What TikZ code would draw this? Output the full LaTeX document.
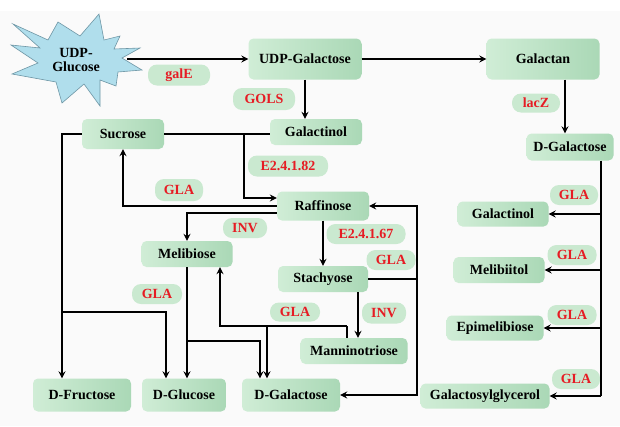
\documentclass[tikz,border=0pt]{standalone}
\usepackage{fontspec}
\setmainfont{Liberation Serif}
\usetikzlibrary{arrows.meta,calc}
\definecolor{boxL}{RGB}{208,237,214}
\definecolor{boxR}{RGB}{170,216,182}
\definecolor{pill}{RGB}{202,233,208}
\definecolor{labred}{RGB}{230,28,36}
\definecolor{starfill}{RGB}{176,222,236}
\definecolor{starline}{RGB}{110,150,165}
\definecolor{bgc}{RGB}{250,250,250}
\begin{document}
\begin{tikzpicture}[x=1pt,y=-1pt,
  font=\fontsize{14}{14.5}\selectfont\bfseries,
  box/.style={rounded corners=5pt, left color=boxL, right color=boxR, inner sep=0pt, text=black},
  lab/.style={rounded corners=9pt, fill=pill, text=labred, inner sep=0pt},
  arr/.style={line width=1.5pt, -{Stealth[length=7pt,width=7pt,inset=2.5pt]}},
  ln/.style={line width=1.5pt}]
\useasboundingbox (0,0) rectangle (620,426);
\fill[bgc] (0,11) rectangle (620,426);
% star
\filldraw[fill=starfill, draw=starline, line width=0.6pt]
  (13,24) -- (48,40) -- (58,22) -- (80,36) -- (99,14) -- (104,40) -- (120,36) -- (114,49)
  -- (140,48) -- (122,58) -- (142,70) -- (118,72) -- (116,86) -- (100,80) -- (100,106)
  -- (84,84) -- (62,103) -- (56,82) -- (12,74) -- (38,63) -- (11,45) -- (40,48) -- cycle;
\node[minimum width=102pt, align=center, inner sep=0pt] (ug) at (76,60) {UDP-\\Glucose};
% boxes
\node[box, minimum width=113pt, minimum height=41pt] (udpgal) at (305,59) {UDP-Galactose};
\node[box, minimum width=113pt, minimum height=41pt] (galactan) at (543,59) {Galactan};
\node[box, minimum width=92pt, minimum height=26pt] (galactinol1) at (316,132) {Galactinol};
\node[box, minimum width=82pt, minimum height=30pt] (sucrose) at (123,134) {Sucrose};
\node[box, minimum width=92pt, minimum height=29pt] (raffinose) at (323,206) {Raffinose};
\node[box, minimum width=91pt, minimum height=26pt] (melibiose) at (187,254) {Melibiose};
\node[box, minimum width=90pt, minimum height=26pt] (stachyose) at (323,279) {Stachyose};
\node[box, minimum width=107pt, minimum height=26pt] (manninotriose) at (354,351) {Manninotriose};
\node[box, minimum width=98pt, minimum height=33pt] (dfruc) at (82,395) {D-Fructose};
\node[box, minimum width=84pt, minimum height=33pt] (dgluc) at (184,395) {D-Glucose};
\node[box, minimum width=98pt, minimum height=33pt] (dgal) at (291,395) {D-Galactose};
\node[box, minimum width=87pt, minimum height=27pt] (dgalR) at (570,147) {D-Galactose};
\node[box, minimum width=91pt, minimum height=25pt] (galactinolR) at (503,214) {Galactinol};
\node[box, minimum width=91pt, minimum height=26pt] (melibiitol) at (499,270) {Melibiitol};
\node[box, minimum width=97pt, minimum height=25pt] (epimelibiose) at (495,328) {Epimelibiose};
\node[box, minimum width=129pt, minimum height=25pt] (galactosylglycerol) at (485,396) {Galactosylglycerol};
% labels
\node[lab, minimum width=62pt, minimum height=21pt] (galE) at (179,75) {galE};
\node[lab, minimum width=62pt, minimum height=22pt] (gols) at (264,99) {GOLS};
\node[lab, minimum width=80pt, minimum height=21pt] (e82) at (288,166) {E2.4.1.82};
\node[lab, minimum width=48pt, minimum height=22pt] (gla1) at (179,190) {GLA};
\node[lab, minimum width=44pt, minimum height=20pt] (inv1) at (245,228) {INV};
\node[lab, minimum width=79pt, minimum height=20pt] (e67) at (366,234) {E2.4.1.67};
\node[lab, minimum width=49pt, minimum height=20pt] (gla2) at (391,260) {GLA};
\node[lab, minimum width=44pt, minimum height=21pt] (inv2) at (384,313) {INV};
\node[lab, minimum width=50pt, minimum height=19pt] (gla3) at (295,312) {GLA};
\node[lab, minimum width=50pt, minimum height=20pt] (gla4) at (157,294) {GLA};
\node[lab, minimum width=48pt, minimum height=19pt] (lacz) at (536,103) {lacZ};
\node[lab, minimum width=48pt, minimum height=20pt] (glaR1) at (574,195) {GLA};
\node[lab, minimum width=49pt, minimum height=20pt] (glaR2) at (572,255) {GLA};
\node[lab, minimum width=49pt, minimum height=20pt] (glaR3) at (572,315) {GLA};
\node[lab, minimum width=48pt, minimum height=20pt] (glaR4) at (576,379) {GLA};
% connectors
\draw[arr] (ug.east |- udpgal.west) -- (udpgal.west);
\draw[arr] (udpgal.east) -- (galactan.west);
\draw[arr] (udpgal.south) -- (udpgal.south |- galactinol1.north);
\draw[ln] (sucrose.east) -- (sucrose.east -| galactinol1.west);
\coordinate (j1) at ($(sucrose.east)+(80,0)$);
\draw[arr] (j1) |- ($(raffinose.west)+(0,-8)$);
\draw[arr] (sucrose.west) -| ($(dfruc.north)+(-20,0)$);
\coordinate (j3) at ($(sucrose.west)+(-20,178)$);
\draw[arr] (j3) -| ($(dgluc.north)+(-18,0)$);
\draw[arr] (raffinose.west) -| (sucrose.south);
\draw[arr] ($(raffinose.west)+(0,7)$) -| (melibiose.north);
\draw[arr] (raffinose.south) -- (stachyose.north);
\coordinate (bus) at ($(stachyose.east)+(49,0)$);
\draw[ln] (stachyose.east) -- (bus);
\draw[arr] (bus) |- (raffinose.east);
\draw[arr] (bus) |- (dgal.east);
\coordinate (ss) at ($(stachyose.south)+(35,0)$);
\draw[arr] (ss) -- (ss |- manninotriose.north);
\coordinate (m1) at ($(manninotriose.north)+(-7,0)$);
\coordinate (m2) at ($(manninotriose.north)+(-7,-12)$);
\draw[ln] (m1) -- (m2);
\draw[arr] (m2) -| ($(melibiose.south)+(33,0)$);
\coordinate (g1) at ($(dgal.north)+(-24,0)$);
\draw[arr] (g1 |- m2) -- (g1);
\draw[arr] (melibiose.south) -- (melibiose.south |- dgluc.north);
\coordinate (g2) at ($(dgal.north)+(-31,0)$);
\draw[arr] ($(melibiose.south)+(0,74)$) -| (g2);
\coordinate (gs) at ($(galactan.south)+(22,0)$);
\draw[arr] (gs) -- (gs |- dgalR.north);
\coordinate (rb) at ($(dgalR.south)+(31,0)$);
\draw[ln] (rb) -- (rb |- galactosylglycerol.east);
\draw[arr] (rb |- galactinolR.east) -- (galactinolR.east);
\draw[arr] (rb |- melibiitol.east) -- (melibiitol.east);
\draw[arr] (rb |- epimelibiose.east) -- (epimelibiose.east);
\draw[arr] (rb |- galactosylglycerol.east) -- (galactosylglycerol.east);
\end{tikzpicture}
\end{document}
